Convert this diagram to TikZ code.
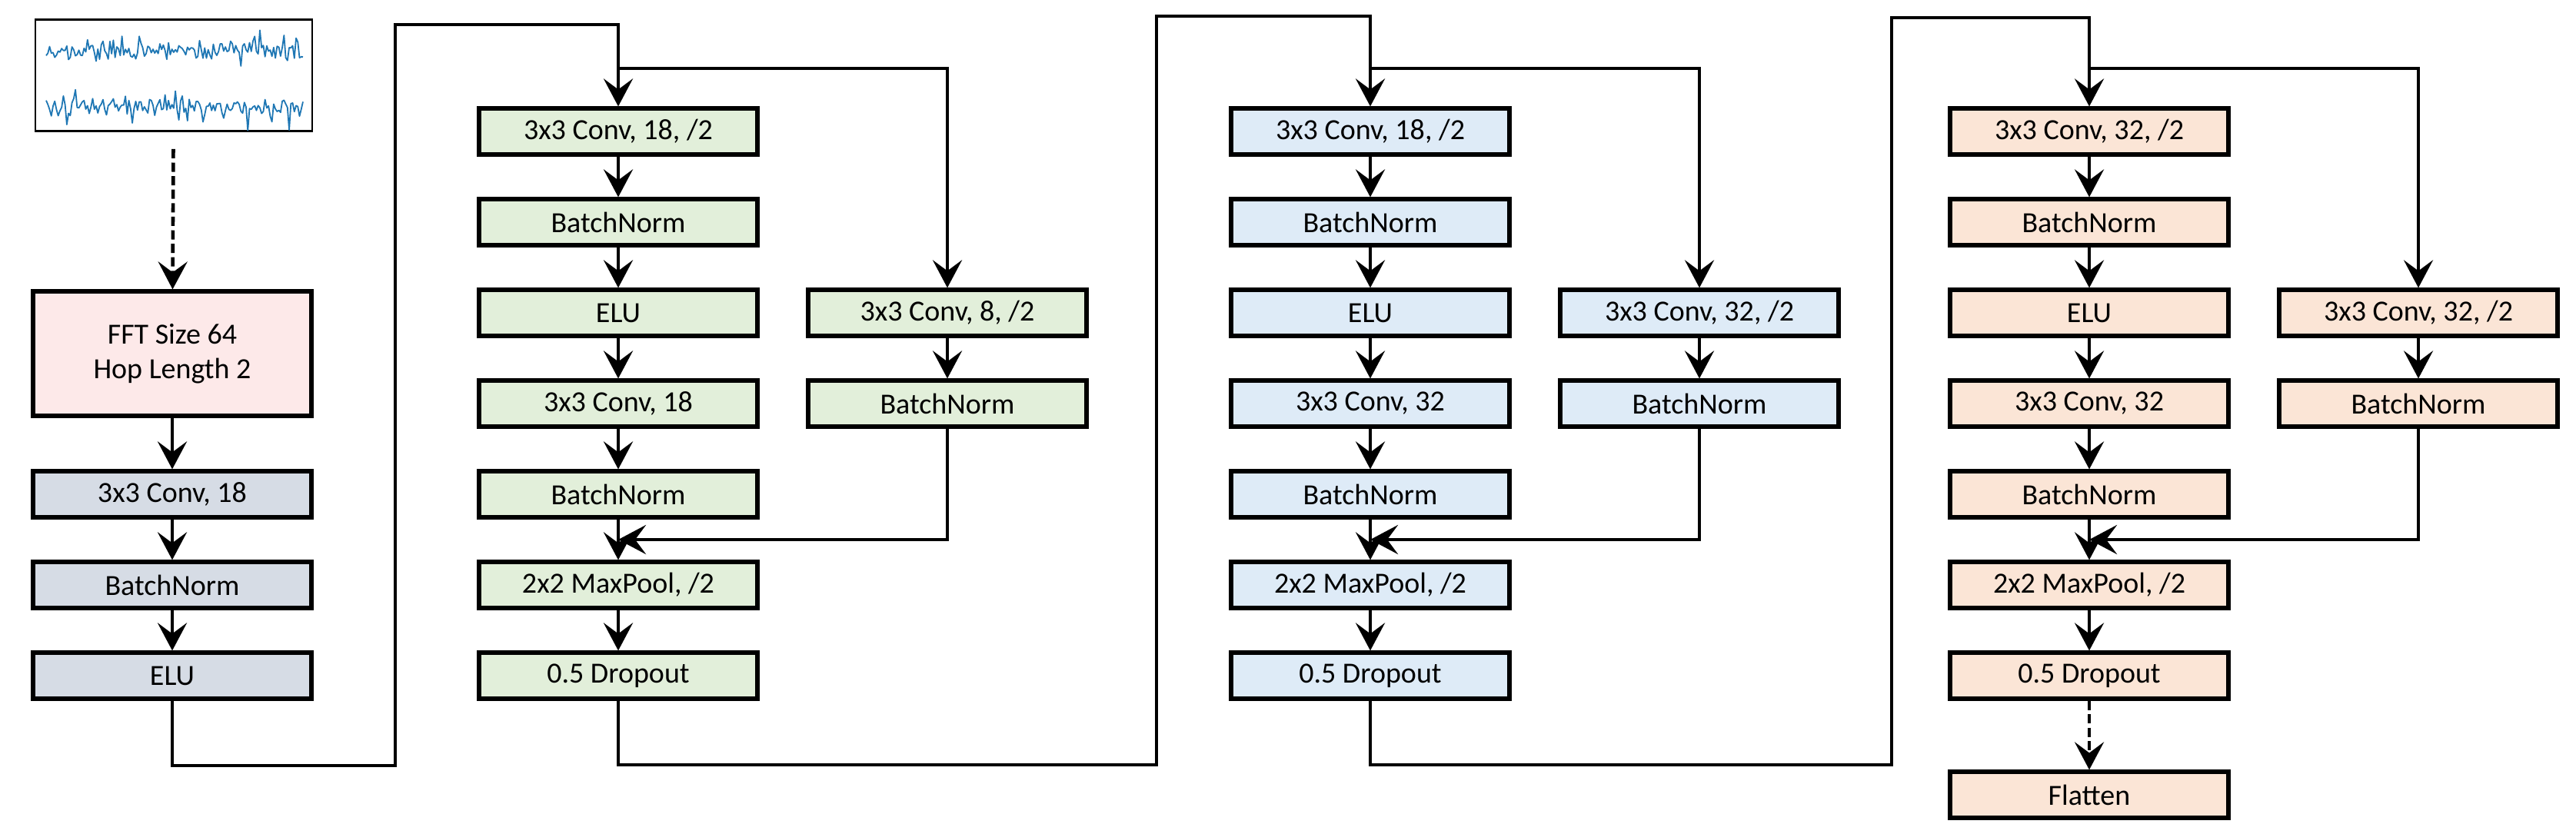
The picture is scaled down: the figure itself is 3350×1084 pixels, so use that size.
\documentclass[tikz,border=0pt]{standalone}
\usepackage{fontspec}
\setmainfont{Carlito}
\usepackage{tikz}
\usetikzlibrary{arrows.meta,positioning}
\definecolor{cnink}    {HTML}{000000}
\definecolor{cngray}   {HTML}{D6DCE5}
\definecolor{cnrose}   {HTML}{FDE9E9}
\definecolor{cngreen}  {HTML}{E2EFDA}
\definecolor{cnblue}   {HTML}{DEEBF7}
\definecolor{cnpeach}  {HTML}{FBE5D6}
\definecolor{cnsignal} {HTML}{1F77B4}
\tikzset{
  cnbox/.style={draw=cnink, line width=1.3pt, minimum width=90.5pt, minimum height=15pt,
                inner sep=0pt, font=\fontsize{9.5pt}{11.3pt}\selectfont},
  cnstem/.style={cnbox, fill=cngray},
  cnfft/.style={cnbox, fill=cnrose, minimum height=40.5pt, align=center},
  cnblockA/.style={cnbox, fill=cngreen},
  cnblockB/.style={cnbox, fill=cnblue},
  cnblockC/.style={cnbox, fill=cnpeach},
  cnframe/.style={draw=cnink, line width=0.7pt, minimum width=90pt, minimum height=36.25pt},
  cnedge/.style={-{Stealth[length=9pt, width=9.5pt, inset=3.5pt]}, line width=1.15pt, draw=cnink},
  cndashed/.style={cnedge, dash pattern=on 3pt off 1.4pt},
  cnwave/.style={draw=cnsignal, line width=0.45pt, line join=round},
}

\begin{document}
\begin{tikzpicture}[x=0.25pt, y=-0.25pt]
  \useasboundingbox (0,0) rectangle (3350,1084);

  % input signal and stem
  \node[cnframe] (wave) at (226,98) {};
  \pgfmathsetseed{11}
  \draw[cnwave] plot[domain=60:394, samples=150]
    (\x, {66 + 7*rand + 4*sin(37*\x) + 22*pow(rand,5)});
  \draw[cnwave] plot[domain=60:394, samples=150]
    (\x, {140 + 8*rand + 5*sin(29*\x) + 26*pow(rand,5)});
  \node[cnfft] (fft) at (224,460) {FFT Size 64\\Hop Length 2};
  \node[cnstem] (conv0) at (224,643) {3x3 Conv, 18};
  \node[cnstem] (bn0)   at (224,761) {BatchNorm};
  \node[cnstem] (elu0)  at (224,879) {ELU};

  % block 1
  \node[cnblockA] (c1conv)  at (804,171) {3x3 Conv, 18, /2};
  \node[cnblockA] (c1bn)    at (804,289) {BatchNorm};
  \node[cnblockA] (c1elu)   at (804,407) {ELU};
  \node[cnblockA] (c1conv2) at (804,525) {3x3 Conv, 18};
  \node[cnblockA] (c1bn2)   at (804,643) {BatchNorm};
  \node[cnblockA] (c1pool)  at (804,761) {2x2 MaxPool, /2};
  \node[cnblockA] (c1drop)  at (804,879) {0.5 Dropout};
  \node[cnblockA] (c1sconv) at (1232,407) {3x3 Conv, 8, /2};
  \node[cnblockA] (c1sbn)   at (1232,525) {BatchNorm};

  % block 2
  \node[cnblockB] (c2conv)  at (1782,171) {3x3 Conv, 18, /2};
  \node[cnblockB] (c2bn)    at (1782,289) {BatchNorm};
  \node[cnblockB] (c2elu)   at (1782,407) {ELU};
  \node[cnblockB] (c2conv2) at (1782,525) {3x3 Conv, 32};
  \node[cnblockB] (c2bn2)   at (1782,643) {BatchNorm};
  \node[cnblockB] (c2pool)  at (1782,761) {2x2 MaxPool, /2};
  \node[cnblockB] (c2drop)  at (1782,879) {0.5 Dropout};
  \node[cnblockB] (c2sconv) at (2210,407) {3x3 Conv, 32, /2};
  \node[cnblockB] (c2sbn)   at (2210,525) {BatchNorm};

  % block 3
  \node[cnblockC] (c3conv)  at (2717,171) {3x3 Conv, 32, /2};
  \node[cnblockC] (c3bn)    at (2717,289) {BatchNorm};
  \node[cnblockC] (c3elu)   at (2717,407) {ELU};
  \node[cnblockC] (c3conv2) at (2717,525) {3x3 Conv, 32};
  \node[cnblockC] (c3bn2)   at (2717,643) {BatchNorm};
  \node[cnblockC] (c3pool)  at (2717,761) {2x2 MaxPool, /2};
  \node[cnblockC] (c3drop)  at (2717,879) {0.5 Dropout};
  \node[cnblockC] (c3sconv) at (3145,407) {3x3 Conv, 32, /2};
  \node[cnblockC] (c3sbn)   at (3145,525) {BatchNorm};
  \node[cnblockC] (flat)    at (2717,1034) {Flatten};

  % routing points
  \coordinate (lp1) at (514,996);  \coordinate (lt1) at (514,32);
  \coordinate (lp2) at (1504,995); \coordinate (lt2) at (1504,21);
  \coordinate (lp3) at (2460,995); \coordinate (lt3) at (2460,23);
  \coordinate (br1) at (804,89);   \coordinate (mg1) at (804,702);
  \coordinate (br2) at (1782,89);  \coordinate (mg2) at (1782,702);
  \coordinate (br3) at (2717,89);  \coordinate (mg3) at (2717,702);

  \draw[cndashed, shorten <=5.5pt] (wave) -- (fft);
  \draw[cnedge] (fft) -- (conv0);
  \draw[cnedge] (conv0) -- (bn0);
  \draw[cnedge] (bn0) -- (elu0);
  \draw[cnedge] (elu0.south) |- (lp1) -- (lt1) -| (c1conv.north);

  \draw[cnedge] (c1conv) -- (c1bn);
  \draw[cnedge] (c1bn) -- (c1elu);
  \draw[cnedge] (c1elu) -- (c1conv2);
  \draw[cnedge] (c1conv2) -- (c1bn2);
  \draw[cnedge] (c1bn2) -- (c1pool);
  \draw[cnedge] (c1pool) -- (c1drop);
  \draw[cnedge] (br1) -| (c1sconv.north);
  \draw[cnedge] (c1sconv) -- (c1sbn);
  \draw[cnedge] (c1sbn.south) |- (mg1);
  \draw[cnedge] (c1drop.south) |- (lp2) -- (lt2) -| (c2conv.north);

  \draw[cnedge] (c2conv) -- (c2bn);
  \draw[cnedge] (c2bn) -- (c2elu);
  \draw[cnedge] (c2elu) -- (c2conv2);
  \draw[cnedge] (c2conv2) -- (c2bn2);
  \draw[cnedge] (c2bn2) -- (c2pool);
  \draw[cnedge] (c2pool) -- (c2drop);
  \draw[cnedge] (br2) -| (c2sconv.north);
  \draw[cnedge] (c2sconv) -- (c2sbn);
  \draw[cnedge] (c2sbn.south) |- (mg2);
  \draw[cnedge] (c2drop.south) |- (lp3) -- (lt3) -| (c3conv.north);

  \draw[cnedge] (c3conv) -- (c3bn);
  \draw[cnedge] (c3bn) -- (c3elu);
  \draw[cnedge] (c3elu) -- (c3conv2);
  \draw[cnedge] (c3conv2) -- (c3bn2);
  \draw[cnedge] (c3bn2) -- (c3pool);
  \draw[cnedge] (c3pool) -- (c3drop);
  \draw[cnedge] (br3) -| (c3sconv.north);
  \draw[cnedge] (c3sconv) -- (c3sbn);
  \draw[cnedge] (c3sbn.south) |- (mg3);
  \draw[cndashed] (c3drop) -- (flat);
\end{tikzpicture}
\end{document}
